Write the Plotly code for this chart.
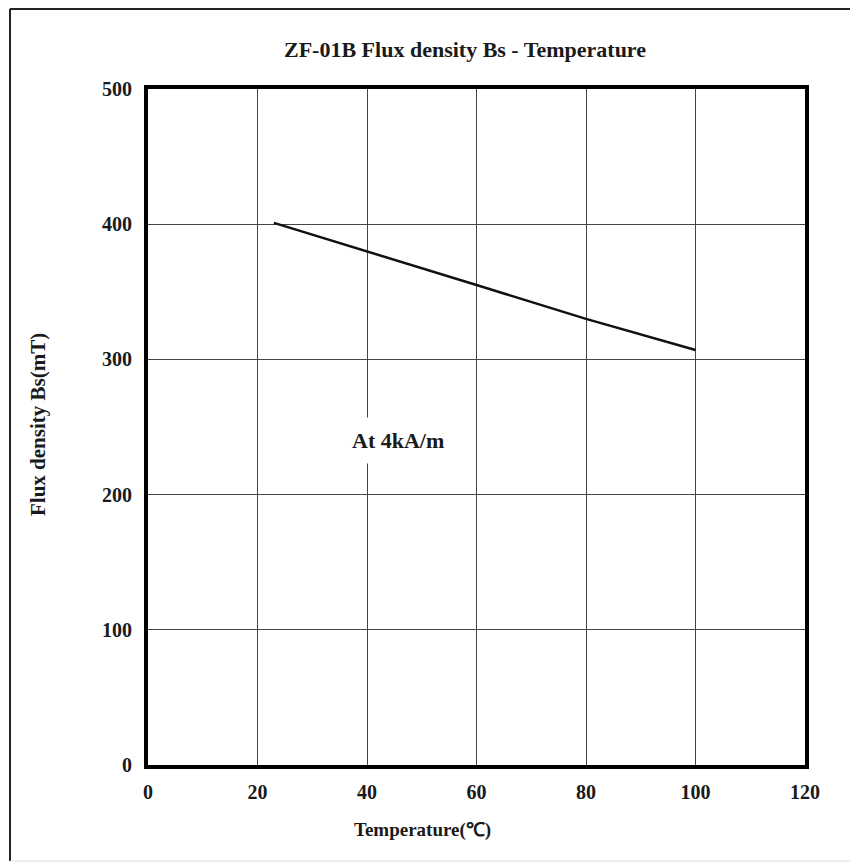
import plotly.graph_objects as go

temperature = [23, 40, 60, 80, 100]
flux_density = [401, 380, 355, 330, 307]

x_ticks = [0, 20, 40, 60, 80, 100, 120]
y_ticks = [0, 100, 200, 300, 400, 500]

title_text = "ZF-01B Flux density Bs - Temperature"
x_title = "Temperature(℃)"
y_title = "Flux density Bs(mT)"
note_text = "At 4kA/m"

FONT = "Liberation Serif"
OFF = 8  # page body margin

W, H = 850, 858
L, T = 148 - OFF, 89 - OFF
R = W - (805 - OFF)
B = H - (765 - OFF)

fig = go.Figure()
fig.add_trace(go.Scatter(
    x=temperature, y=flux_density, mode="lines",
    line=dict(color="#111111", width=2.5), showlegend=False, hoverinfo="skip"))

tickfont = dict(family=FONT, size=20, color="#1a1a1a", weight="bold")
axis_common = dict(
    showline=True, linecolor="black", linewidth=4, mirror=True,
    showgrid=True, gridcolor="#444444", gridwidth=1.3,
    zeroline=False, ticks="", tickfont=tickfont,
)
fig.update_xaxes(range=[0, 120], tickvals=x_ticks, ticktext=[str(v) for v in x_ticks],
                 ticklabelstandoff=6, **axis_common)
fig.update_yaxes(range=[0, 500], tickvals=y_ticks, ticktext=[str(v) for v in y_ticks],
                 ticklabelstandoff=8, **axis_common)

fig.update_layout(
    width=W, height=H,
    margin=dict(l=L, r=R, t=T, b=B),
    paper_bgcolor="white", plot_bgcolor="white",
)

pw = W - L - R
ph = H - T - B
def px_to_paper(px, py):
    # px, py are window pixel coordinates
    return (px - OFF - L) / pw, (H - B - (py - OFF)) / ph

fig.add_annotation(x=45.7, y=240, xref="x", yref="y", text=note_text, showarrow=False,
                   xanchor="center", yanchor="middle",
                   bgcolor="white", borderpad=10,
                   font=dict(family=FONT, size=22, color="#1a1a1a", weight="bold"))

tx, ty = px_to_paper(465, 50)
fig.add_annotation(x=tx, y=ty, xref="paper", yref="paper", text=title_text, showarrow=False,
                   xanchor="center", yanchor="middle",
                   font=dict(family=FONT, size=22, color="#1a1a1a", weight="bold"))
ax, ay = px_to_paper(422, 830)
fig.add_annotation(x=ax, y=ay, xref="paper", yref="paper", text=x_title, showarrow=False,
                   xanchor="center", yanchor="middle",
                   font=dict(family=FONT, size=19, color="#1a1a1a", weight="bold"))
bx, by = px_to_paper(38, 425)
fig.add_annotation(x=bx, y=by, xref="paper", yref="paper", text=y_title, showarrow=False,
                   textangle=-90, xanchor="center", yanchor="middle",
                   font=dict(family=FONT, size=21, color="#1a1a1a", weight="bold"))

# outer frame
x0, _ = px_to_paper(10, 0)
x1, _ = px_to_paper(852, 0)
_, y0 = px_to_paper(0, 9)
_, y1 = px_to_paper(0, 861)
fig.add_shape(type="line", xref="paper", yref="paper", x0=x0, x1=x0, y0=y0, y1=y1,
              line=dict(color="#222222", width=2))
fig.add_shape(type="line", xref="paper", yref="paper", x0=x0, x1=x1, y0=y0, y1=y0,
              line=dict(color="#222222", width=2))
fig.add_shape(type="line", xref="paper", yref="paper", x0=x0, x1=x1, y0=y1, y1=y1,
              line=dict(color="#dddddd", width=1))

fig.write_html("out.html")
